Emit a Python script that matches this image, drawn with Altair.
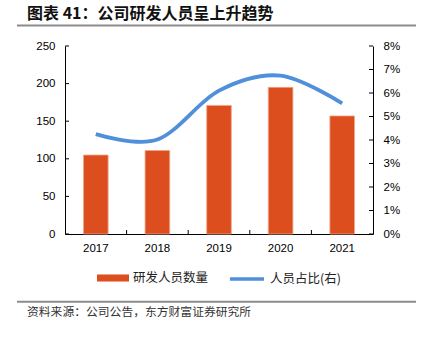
import altair as alt
import pandas as pd

# ---- data ----
years = ["2017", "2018", "2019", "2020", "2021"]
staff = [105, 111, 171, 195, 157]
ratio = [0.0425, 0.0402, 0.0610, 0.0674, 0.0556]
left_ticks = [0, 50, 100, 150, 200, 250]
right_ticks = [0, 0.01, 0.02, 0.03, 0.04, 0.05, 0.06, 0.07, 0.08]
x_tick_years = ["2018", "2019", "2020", "2021"]
bar_name = "研发人员数量"
line_name = "人员占比(右)"
title_text = "图表 41：公司研发人员呈上升趋势"
source_text = "资料来源：公司公告，东方财富证券研究所"

W, H = 308, 188
BAR_COLOR = "#DD4E1F"
LINE_COLOR = "#4F8FDB"
NUM_FONT = "Liberation Sans"
CJK_FONT = "Noto Sans CJK SC"

df = pd.DataFrame({"year": years, "staff": staff, "ratio": ratio,
                   "sb": [bar_name] * 5, "sl": [line_name] * 5})
lt = pd.DataFrame({"v": left_ticks})
rt = pd.DataFrame({"v": right_ticks})
xt = pd.DataFrame({"year": x_tick_years})

xscale = alt.Scale(domain=years, paddingInner=0, paddingOuter=0)
ydom_l = alt.Scale(domain=[0, 250], nice=False, zero=True)
ydom_r = alt.Scale(domain=[0, 0.08], nice=False, zero=True)

x_axis = alt.Axis(
    title=None, labelAngle=0, ticks=False, domainColor="#000", domainWidth=1,
    labelFont=NUM_FONT, labelFontSize=11.5, labelColor="#000", labelPadding=8)
yl_axis = alt.Axis(
    title=None, values=left_ticks, ticks=False, grid=False, domainColor="#000",
    domainWidth=1, labelFont=NUM_FONT, labelFontSize=11.5, labelColor="#000",
    labelPadding=10)
yr_axis = alt.Axis(
    orient="right", title=None, values=right_ticks, format=".0%", ticks=False,
    grid=False, domainColor="#000", domainWidth=1, labelFont=NUM_FONT,
    labelFontSize=11.5, labelColor="#000", labelPadding=10)

bars = alt.Chart(df).mark_bar(
    width=alt.RelativeBandSize(0.4), stroke="#F2A68C", strokeWidth=0.8
).encode(
    x=alt.X("year:N", scale=xscale, axis=x_axis),
    y=alt.Y("staff:Q", scale=ydom_l, axis=yl_axis),
    color=alt.Color("sb:N", scale=alt.Scale(range=[BAR_COLOR]), legend=alt.Legend(
        orient="none", legendX=32, legendY=216, title=None, padding=0,
        symbolType="M-1,-0.22H1V0.22H-1Z", symbolSize=1024, symbolStrokeWidth=0,
        labelFont=CJK_FONT, labelFontSize=12.5, labelColor="#222", labelOffset=4)),
)

ltick = alt.Chart(lt).mark_rule(color="#000", strokeWidth=1).encode(
    y=alt.Y("v:Q", scale=ydom_l, axis=yl_axis), x=alt.value(0), x2=alt.value(4))

xtick = alt.Chart(xt).mark_rule(color="#000", strokeWidth=1).encode(
    x=alt.X("year:N", scale=xscale, bandPosition=0, axis=x_axis),
    y=alt.value(H), y2=alt.value(H - 4))

line = alt.Chart(df).mark_line(interpolate="cardinal", strokeWidth=3.8).encode(
    x=alt.X("year:N", scale=xscale, axis=x_axis),
    y=alt.Y("ratio:Q", scale=ydom_r, axis=yr_axis),
    color=alt.Color("sl:N", scale=alt.Scale(range=[LINE_COLOR]), legend=alt.Legend(
        orient="none", legendX=163, legendY=214, title=None, padding=0,
        symbolType="stroke", symbolSize=1156, symbolStrokeWidth=3.5,
        labelFont=CJK_FONT, labelFontSize=12.5, labelColor="#222", labelOffset=4)),
)

rtick = alt.Chart(rt).mark_rule(color="#000", strokeWidth=1).encode(
    y=alt.Y("v:Q", scale=ydom_r, axis=yr_axis), x=alt.value(W - 4), x2=alt.value(W))

title = alt.Chart(pd.DataFrame({"t": [title_text]})).mark_text(
    align="left", baseline="middle", fontSize=16, fontWeight="bold",
    font=CJK_FONT, color="#111").encode(
    x=alt.value(-38), y=alt.value(-32), text="t:N")

source = alt.Chart(pd.DataFrame({"t": [source_text]})).mark_text(
    align="left", baseline="middle", fontSize=11.8,
    font=CJK_FONT, color="#333").encode(
    x=alt.value(-38), y=alt.value(266), text="t:N")

top_line = alt.Chart(pd.DataFrame({"a": [0]})).mark_rule(
    color="#8C8C8C", strokeWidth=2).encode(
    x=alt.value(-48), x2=alt.value(351), y=alt.value(-20.5))

bot_line = alt.Chart(pd.DataFrame({"a": [0]})).mark_rule(
    color="#8C8C8C", strokeWidth=2).encode(
    x=alt.value(-48), x2=alt.value(351), y=alt.value(255.7))

left = alt.layer(bars, ltick, xtick)
right = alt.layer(line, rtick)

chart = alt.layer(left, right, title, source, top_line, bot_line).resolve_scale(
    y="independent", color="independent"
).properties(
    width=W, height=H,
    autosize=alt.AutoSizeParams(type="none"),
    padding={"left": 65, "top": 46, "right": 50, "bottom": 103},
    background="white",
).configure_view(stroke=None)

chart.save("out.html", embed_options={"renderer": "svg", "actions": False})
